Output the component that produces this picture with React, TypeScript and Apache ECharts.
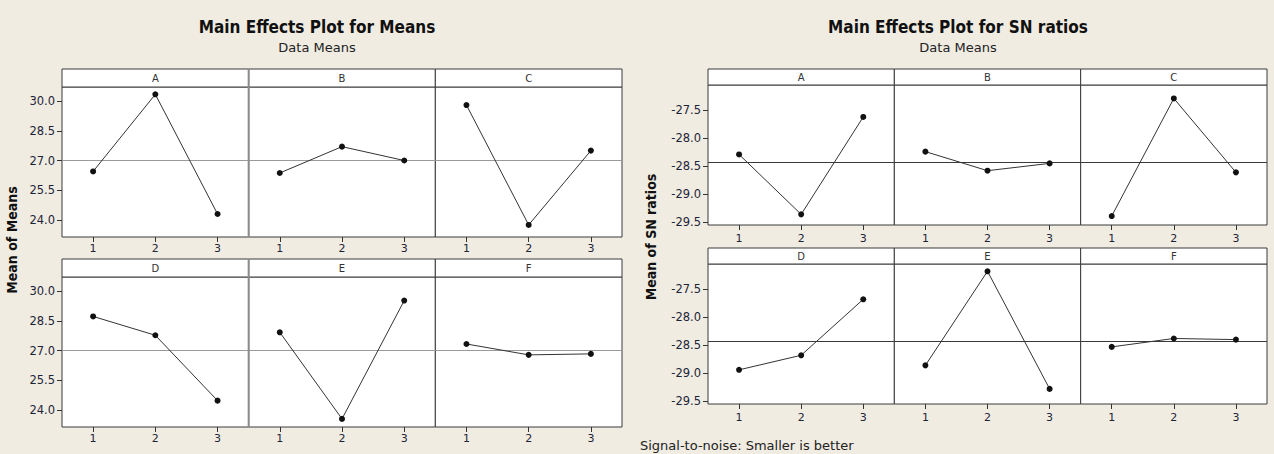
import React, { useEffect, useRef } from "react";
import * as echarts from "echarts";

// ---------- data ----------
const factors = ["A", "B", "C", "D", "E", "F"];
const levels = ["1", "2", "3"];

const meansA = [26.45, 30.34, 24.3];
const meansB = [26.37, 27.7, 27.0];
const meansC = [29.8, 23.75, 27.5];
const meansD = [28.72, 27.77, 24.47];
const meansE = [27.92, 23.55, 29.52];
const meansF = [27.33, 26.78, 26.83];
const meansGrand = 27.0;
const meansTicks = [24.0, 25.5, 27.0, 28.5, 30.0];

const snA = [-28.29, -29.36, -27.62];
const snB = [-28.24, -28.58, -28.45];
const snC = [-29.39, -27.29, -28.61];
const snD = [-28.94, -28.68, -27.68];
const snE = [-28.86, -27.18, -29.28];
const snF = [-28.53, -28.38, -28.4];
const snGrand = -28.43;
const snTicks = [-29.5, -29.0, -28.5, -28.0, -27.5];

const meansSeries = [meansA, meansB, meansC, meansD, meansE, meansF];
const snSeries = [snA, snB, snC, snD, snE, snF];

// ---------- layout ----------
const BG = "#f0ece2";
const TXT = "#1e2438";
const FONT = "DejaVu Sans";
const FONT_C = "DejaVu Sans Condensed";

type Panel = {
  left: number;
  right: number;
  rows: { stripTop: number; top: number; bottom: number }[];
  min: number;
  max: number;
  ticks: number[];
  data: number[][];
  grand: number;
  refColor: string;
  xMargin: number;
};

const panels: Panel[] = [
  {
    left: 62,
    right: 622,
    rows: [
      { stripTop: 69, top: 87, bottom: 237 },
      { stripTop: 259, top: 277, bottom: 427 },
    ],
    min: 23.14,
    max: 30.71,
    ticks: meansTicks,
    data: meansSeries,
    grand: meansGrand,
    refColor: "#9a9a9a",
    xMargin: 6,
  },
  {
    left: 708,
    right: 1267,
    rows: [
      { stripTop: 69, top: 85, bottom: 225 },
      { stripTop: 248, top: 264, bottom: 404 },
    ],
    min: -29.55,
    max: -27.05,
    ticks: snTicks,
    data: snSeries,
    grand: snGrand,
    refColor: "#3a3a3a",
    xMargin: 8,
  },
];

function buildOption() {
  const grid: any[] = [];
  const xAxis: any[] = [];
  const yAxis: any[] = [];
  const series: any[] = [];
  const graphic: any[] = [];

  panels.forEach((p) => {
    const w = (p.right - p.left) / 3;
    p.rows.forEach((r, ri) => {
      for (let c = 0; c < 3; c++) {
        const k = grid.length;
        const fi = ri * 3 + c;
        const gl = p.left + c * w;
        grid.push({
          left: gl,
          top: r.top,
          width: w,
          height: r.bottom - r.top,
          show: true,
          backgroundColor: "#ffffff",
          borderColor: "#3a3a3a",
          borderWidth: 1,
        });
        xAxis.push({
          type: "category",
          gridIndex: k,
          data: levels,
          boundaryGap: true,
          axisLine: { show: false },
          axisTick: {
            show: true,
            alignWithLabel: true,
            length: 5,
            lineStyle: { color: "#333" },
          },
          axisLabel: {
            margin: p.xMargin,
            fontSize: 11,
            fontFamily: FONT,
            color: TXT,
          },
          splitLine: { show: false },
        });
        yAxis.push({
          type: "value",
          gridIndex: k,
          min: p.min,
          max: p.max,
          axisLine: { show: false },
          axisTick: {
            show: c === 0,
            length: 5,
            customValues: p.ticks,
            lineStyle: { color: "#333" },
          },
          axisLabel: {
            show: c === 0,
            customValues: p.ticks,
            formatter: (v: number) => v.toFixed(1),
            fontSize: 11.5,
            fontFamily: FONT,
            color: TXT,
            margin: 7,
          },
          splitLine: { show: false },
        });
        series.push({
          type: "line",
          xAxisIndex: k,
          yAxisIndex: k,
          data: p.data[fi],
          symbol: "circle",
          symbolSize: 6,
          itemStyle: { color: "#111" },
          lineStyle: { color: "#333", width: 1 },
          z: 3,
          markLine: {
            silent: true,
            symbol: "none",
            label: { show: false },
            lineStyle: { color: p.refColor, width: 1.2, type: "solid" },
            data: [{ yAxis: p.grand }],
            z: 2,
          },
        });
        // strip header
        graphic.push({
          type: "rect",
          shape: { x: gl, y: r.stripTop, width: w, height: r.top - r.stripTop },
          style: { fill: "#ffffff", stroke: "#3a3a3a", lineWidth: 1 },
          z: 10,
        });
        graphic.push({
          type: "text",
          x: gl + w / 2,
          y: (r.stripTop + r.top) / 2,
          style: {
            text: factors[fi],
            align: "center",
            verticalAlign: "middle",
            fontSize: 10,
            fontFamily: FONT,
            fill: "#333",
          },
          z: 11,
        });
      }
    });
  });

  // gray dividers in the left panel
  const lw = (panels[0].right - panels[0].left) / 3;
  panels[0].rows.forEach((r) => {
    graphic.push({
      type: "line",
      shape: { x1: panels[0].left + lw, y1: r.stripTop, x2: panels[0].left + lw, y2: r.bottom },
      style: { stroke: "#8c8c8c", lineWidth: 2 },
      z: 12,
    });
  });

  // titles
  const titles = [
    { x: 317, t: "Main Effects Plot for Means" },
    { x: 958, t: "Main Effects Plot for SN ratios" },
  ];
  titles.forEach((t) => {
    graphic.push({
      type: "text",
      x: t.x,
      y: 27,
      style: {
        text: t.t,
        align: "center",
        verticalAlign: "middle",
        fontSize: 17,
        fontWeight: "bold",
        fontFamily: FONT_C,
        fill: "#111",
      },
    });
    graphic.push({
      type: "text",
      x: t.x,
      y: 47,
      style: {
        text: "Data Means",
        align: "center",
        verticalAlign: "middle",
        fontSize: 13,
        fontFamily: FONT,
        fill: "#222",
      },
    });
  });

  // y-axis names
  const ynames = [
    { x: 12, y: 240, t: "Mean of Means" },
    { x: 651, y: 237, t: "Mean of SN ratios" },
  ];
  ynames.forEach((n) => {
    graphic.push({
      type: "text",
      x: n.x,
      y: n.y,
      rotation: Math.PI / 2,
      style: {
        text: n.t,
        align: "center",
        verticalAlign: "middle",
        fontSize: 14,
        fontWeight: "bold",
        fontFamily: FONT_C,
        fill: "#111",
      },
    });
  });

  graphic.push({
    type: "text",
    x: 640,
    y: 445,
    style: {
      text: "Signal-to-noise: Smaller is better",
      align: "left",
      verticalAlign: "middle",
      fontSize: 13,
      fontFamily: FONT,
      fill: "#222",
    },
  });

  return {
    animation: false,
    backgroundColor: BG,
    grid,
    xAxis,
    yAxis,
    series,
    graphic,
  };
}

export default function App() {
  const ref = useRef<HTMLDivElement>(null);
  useEffect(() => {
    if (!ref.current) return;
    const chart = echarts.init(ref.current, undefined, { renderer: "svg" });
    chart.setOption(buildOption() as any);
    return () => chart.dispose();
  }, []);
  return (
    <div
      ref={ref}
      style={{ position: "fixed", left: 0, top: 0, width: 1274, height: 454 }}
    />
  );
}
